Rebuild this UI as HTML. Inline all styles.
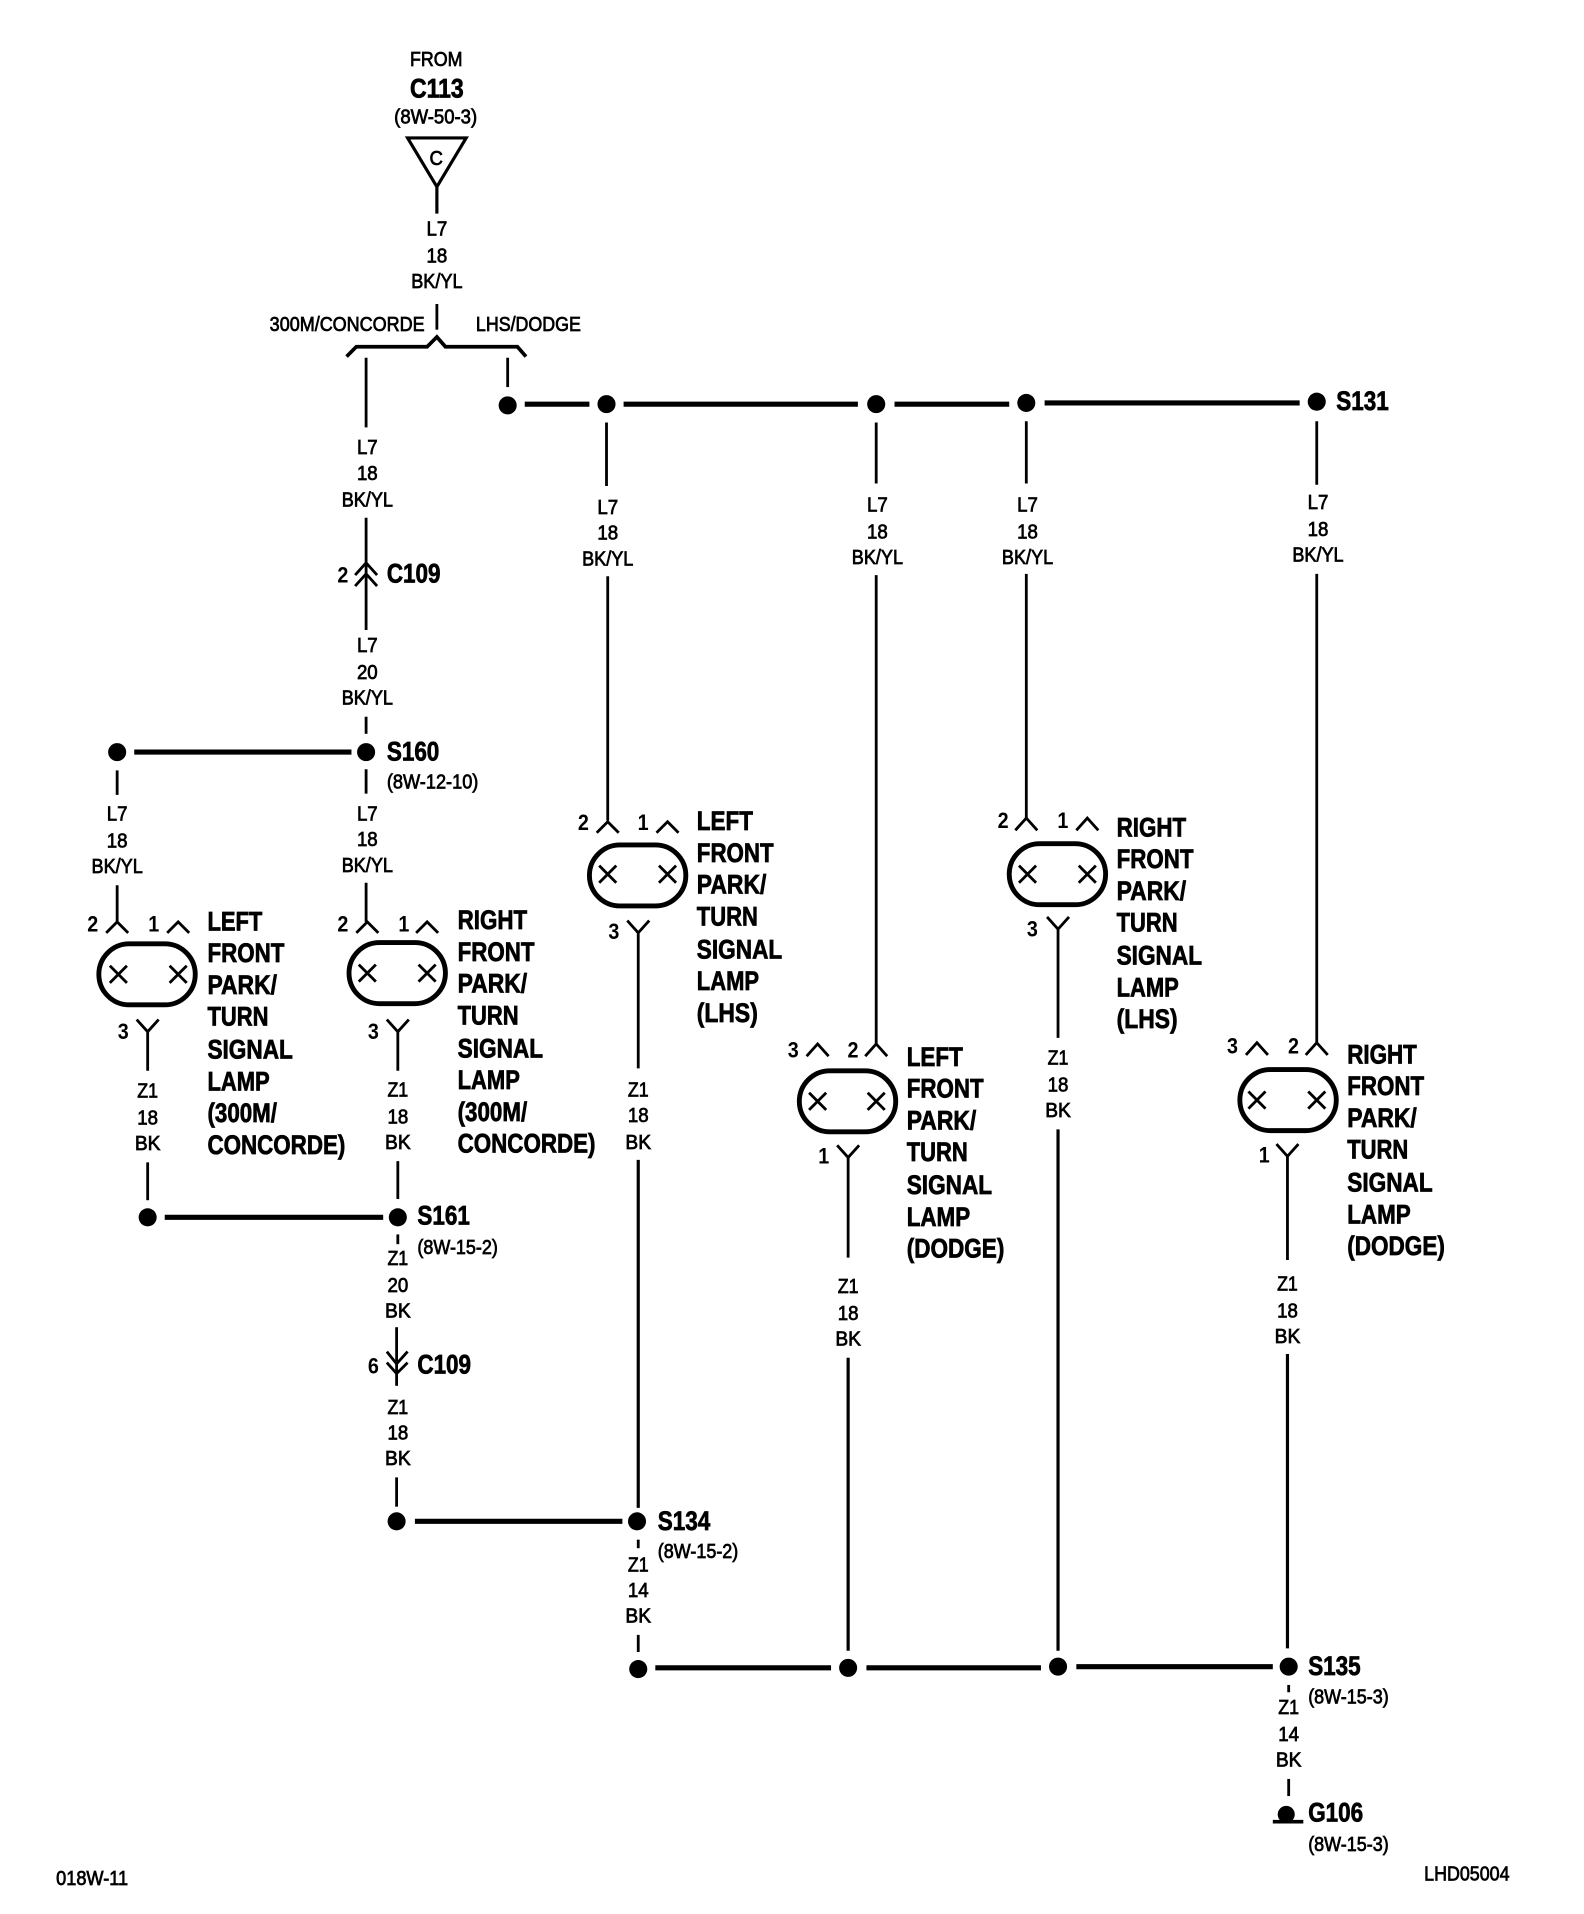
<!DOCTYPE html>
<html><head><meta charset="utf-8"><title>Wiring diagram</title>
<style>
html,body{margin:0;padding:0;background:#fff;width:1584px;height:1914px;overflow:hidden}
svg{display:block}
text{font-family:"Liberation Sans",Arial,sans-serif;fill:#000}
.w{font-size:16.5px;text-anchor:middle;stroke:#000;stroke-width:.6}
.b{font-size:22px;font-weight:bold;stroke:#000;stroke-width:.6}
.r{font-size:16.5px;stroke:#000;stroke-width:.6}
.p{font-size:18.5px;font-weight:bold;text-anchor:middle}
.t{stroke:#000;stroke-width:2.3;fill:none}
.h{stroke:#000;stroke-width:4.2;fill:none}
.c{stroke:#000;stroke-width:2.3;fill:none}
.l{stroke:#000;stroke-width:4;fill:#fff}
</style></head><body>
<svg xmlns="http://www.w3.org/2000/svg" width="1584" height="1914" viewBox="0 0 1298 1567.6" preserveAspectRatio="none">
<rect width="1298" height="1569" fill="#fff"/>

<!-- top -->
<text class="r" x="336" y="54" textLength="43" lengthAdjust="spacingAndGlyphs">FROM</text>
<text class="b" x="336" y="80" textLength="44" lengthAdjust="spacingAndGlyphs">C113</text>
<text class="r" x="323" y="101" textLength="68" lengthAdjust="spacingAndGlyphs">(8W-50-3)</text>
<path class="c" d="M334 113H382L358 153Z M358 153V175" style="stroke-width:2.6"/>
<text class="r" x="352" y="135" textLength="11" lengthAdjust="spacingAndGlyphs">C</text>
<text class="w" x="358" y="193" textLength="17" lengthAdjust="spacingAndGlyphs">L7</text>
<text class="w" x="358" y="215" textLength="17" lengthAdjust="spacingAndGlyphs">18</text>
<text class="w" x="358" y="236" textLength="42" lengthAdjust="spacingAndGlyphs">BK/YL</text>
<path class="t" d="M358 249V270"/>
<text class="r" x="221" y="271" textLength="127" lengthAdjust="spacingAndGlyphs">300M/CONCORDE</text>
<text class="r" x="390" y="271" textLength="86" lengthAdjust="spacingAndGlyphs">LHS/DODGE</text>
<path class="c" d="M284 292L292 284H350L358 276L365 284H424L431 292" style="stroke-width:3"/>

<!-- left branch -->
<path class="t" d="M300 293V350"/>
<text class="w" x="301" y="372" textLength="17" lengthAdjust="spacingAndGlyphs">L7</text>
<text class="w" x="301" y="393" textLength="17" lengthAdjust="spacingAndGlyphs">18</text>
<text class="w" x="301" y="415" textLength="42" lengthAdjust="spacingAndGlyphs">BK/YL</text>
<path class="t" d="M300 424V516"/>
<path class="c" d="M291 471L300 461L309 471M291 480L300 470L309 480"/>
<text class="p" x="281" y="477" textLength="9" lengthAdjust="spacingAndGlyphs">2</text>
<text class="b" x="317" y="477" textLength="44" lengthAdjust="spacingAndGlyphs">C109</text>
<text class="w" x="301" y="534" textLength="17" lengthAdjust="spacingAndGlyphs">L7</text>
<text class="w" x="301" y="556" textLength="17" lengthAdjust="spacingAndGlyphs">20</text>
<text class="w" x="301" y="577" textLength="42" lengthAdjust="spacingAndGlyphs">BK/YL</text>
<path class="t" d="M300 587V601"/>
<circle cx="300" cy="616" r="7.4"/>
<circle cx="96" cy="616" r="7.4"/>
<path class="h" d="M110 616H288"/>
<text class="b" x="317" y="623" textLength="43" lengthAdjust="spacingAndGlyphs">S160</text>
<text class="r" x="317" y="646" textLength="75" lengthAdjust="spacingAndGlyphs">(8W-12-10)</text>
<path class="t" d="M300 630V650M96 631V651M300 723V755M96 725V755"/>
<text class="w" x="96" y="672" textLength="17" lengthAdjust="spacingAndGlyphs">L7</text>
<text class="w" x="96" y="694" textLength="17" lengthAdjust="spacingAndGlyphs">18</text>
<text class="w" x="96" y="715" textLength="42" lengthAdjust="spacingAndGlyphs">BK/YL</text>
<text class="w" x="301" y="672" textLength="17" lengthAdjust="spacingAndGlyphs">L7</text>
<text class="w" x="301" y="693" textLength="17" lengthAdjust="spacingAndGlyphs">18</text>
<text class="w" x="301" y="714" textLength="42" lengthAdjust="spacingAndGlyphs">BK/YL</text>

<!-- lamp 1 -->
<path class="c" d="M87 764L96 755L105 764M137 764L146 755L155 764M112 835L121 845L130 835M121 845V877"/>
<text class="p" x="76" y="763" textLength="9" lengthAdjust="spacingAndGlyphs">2</text>
<text class="p" x="126" y="763" textLength="9" lengthAdjust="spacingAndGlyphs">1</text>
<text class="p" x="101" y="851" textLength="9" lengthAdjust="spacingAndGlyphs">3</text>
<rect class="l" x="81" y="773" width="79" height="50" rx="25"/>
<path class="c" d="M90 791L104 805M104 791L90 805M139 791L153 805M153 791L139 805"/>
<text class="b" x="170" y="762" textLength="45" lengthAdjust="spacingAndGlyphs">LEFT</text>
<text class="b" x="170" y="788" textLength="63" lengthAdjust="spacingAndGlyphs">FRONT</text>
<text class="b" x="170" y="814" textLength="57" lengthAdjust="spacingAndGlyphs">PARK/</text>
<text class="b" x="170" y="840" textLength="50" lengthAdjust="spacingAndGlyphs">TURN</text>
<text class="b" x="170" y="867" textLength="70" lengthAdjust="spacingAndGlyphs">SIGNAL</text>
<text class="b" x="170" y="893" textLength="51" lengthAdjust="spacingAndGlyphs">LAMP</text>
<text class="b" x="170" y="919" textLength="57" lengthAdjust="spacingAndGlyphs">(300M/</text>
<text class="b" x="170" y="945" textLength="113" lengthAdjust="spacingAndGlyphs">CONCORDE)</text>
<text class="w" x="121" y="899" textLength="17" lengthAdjust="spacingAndGlyphs">Z1</text>
<text class="w" x="121" y="921" textLength="17" lengthAdjust="spacingAndGlyphs">18</text>
<text class="w" x="121" y="942" textLength="21" lengthAdjust="spacingAndGlyphs">BK</text>
<path class="t" d="M121 952V983"/>
<circle cx="121" cy="997" r="7.4"/>
<path class="h" d="M135 997H314"/>

<!-- lamp 2 -->
<path class="c" d="M292 764L301 755L310 764M341 764L350 755L359 764M317 835L326 845L335 835M326 845V877"/>
<text class="p" x="281" y="763" textLength="9" lengthAdjust="spacingAndGlyphs">2</text>
<text class="p" x="331" y="763" textLength="9" lengthAdjust="spacingAndGlyphs">1</text>
<text class="p" x="306" y="851" textLength="9" lengthAdjust="spacingAndGlyphs">3</text>
<rect class="l" x="286" y="772" width="79" height="50" rx="25"/>
<path class="c" d="M294 790L308 804M308 790L294 804M343 790L357 804M357 790L343 804"/>
<text class="b" x="375" y="761" textLength="57" lengthAdjust="spacingAndGlyphs">RIGHT</text>
<text class="b" x="375" y="787" textLength="63" lengthAdjust="spacingAndGlyphs">FRONT</text>
<text class="b" x="375" y="813" textLength="57" lengthAdjust="spacingAndGlyphs">PARK/</text>
<text class="b" x="375" y="839" textLength="50" lengthAdjust="spacingAndGlyphs">TURN</text>
<text class="b" x="375" y="866" textLength="70" lengthAdjust="spacingAndGlyphs">SIGNAL</text>
<text class="b" x="375" y="892" textLength="51" lengthAdjust="spacingAndGlyphs">LAMP</text>
<text class="b" x="375" y="918" textLength="57" lengthAdjust="spacingAndGlyphs">(300M/</text>
<text class="b" x="375" y="944" textLength="113" lengthAdjust="spacingAndGlyphs">CONCORDE)</text>
<text class="w" x="326" y="898" textLength="17" lengthAdjust="spacingAndGlyphs">Z1</text>
<text class="w" x="326" y="920" textLength="17" lengthAdjust="spacingAndGlyphs">18</text>
<text class="w" x="326" y="941" textLength="21" lengthAdjust="spacingAndGlyphs">BK</text>
<path class="t" d="M326 951V982"/>
<circle cx="326" cy="997" r="7.4"/>
<text class="b" x="342" y="1003" textLength="43" lengthAdjust="spacingAndGlyphs">S161</text>
<text class="r" x="342" y="1027" textLength="66" lengthAdjust="spacingAndGlyphs">(8W-15-2)</text>
<path class="t" d="M326 1011V1019"/>
<text class="w" x="326" y="1036" textLength="17" lengthAdjust="spacingAndGlyphs">Z1</text>
<text class="w" x="326" y="1058" textLength="17" lengthAdjust="spacingAndGlyphs">20</text>
<text class="w" x="326" y="1079" textLength="21" lengthAdjust="spacingAndGlyphs">BK</text>
<path class="t" d="M325 1087V1135"/>
<path class="c" d="M317 1107L325 1117L334 1107M317 1116L325 1125L334 1116"/>
<text class="p" x="306" y="1125" textLength="9" lengthAdjust="spacingAndGlyphs">6</text>
<text class="b" x="342" y="1125" textLength="44" lengthAdjust="spacingAndGlyphs">C109</text>
<text class="w" x="326" y="1158" textLength="17" lengthAdjust="spacingAndGlyphs">Z1</text>
<text class="w" x="326" y="1179" textLength="17" lengthAdjust="spacingAndGlyphs">18</text>
<text class="w" x="326" y="1200" textLength="21" lengthAdjust="spacingAndGlyphs">BK</text>
<path class="t" d="M325 1210V1234"/>
<circle cx="325" cy="1246" r="7.4"/>
<path class="h" d="M340 1246H510"/>

<!-- top bus -->
<path class="t" d="M416 293V317"/>
<circle cx="416" cy="332" r="7.4"/>
<path class="h" d="M430 331H483M511 331H703M733 331H827M856 330H1065"/>
<circle cx="497" cy="331" r="7.4"/>
<circle cx="718" cy="331" r="7.4"/>
<circle cx="841" cy="330" r="7.4"/>
<circle cx="1079" cy="329" r="7.4"/>
<text class="b" x="1095" y="336" textLength="43" lengthAdjust="spacingAndGlyphs">S131</text>

<!-- LHS left lamp -->
<path class="t" d="M497 346V398M498 472V672"/>
<text class="w" x="498" y="421" textLength="17" lengthAdjust="spacingAndGlyphs">L7</text>
<text class="w" x="498" y="442" textLength="17" lengthAdjust="spacingAndGlyphs">18</text>
<text class="w" x="498" y="463" textLength="42" lengthAdjust="spacingAndGlyphs">BK/YL</text>
<path class="c" d="M489 682L498 673L507 682M538 682L547 673L556 682M514 754L523 764L532 754M523 764V875"/>
<text class="p" x="478" y="680" textLength="9" lengthAdjust="spacingAndGlyphs">2</text>
<text class="p" x="527" y="680" textLength="9" lengthAdjust="spacingAndGlyphs">1</text>
<text class="p" x="503" y="769" textLength="9" lengthAdjust="spacingAndGlyphs">3</text>
<rect class="l" x="483" y="692" width="79" height="50" rx="25"/>
<path class="c" d="M491 709L505 723M505 709L491 723M540 709L554 723M554 709L540 723"/>
<text class="b" x="571" y="680" textLength="46" lengthAdjust="spacingAndGlyphs">LEFT</text>
<text class="b" x="571" y="706" textLength="63" lengthAdjust="spacingAndGlyphs">FRONT</text>
<text class="b" x="571" y="732" textLength="57" lengthAdjust="spacingAndGlyphs">PARK/</text>
<text class="b" x="571" y="758" textLength="50" lengthAdjust="spacingAndGlyphs">TURN</text>
<text class="b" x="571" y="785" textLength="70" lengthAdjust="spacingAndGlyphs">SIGNAL</text>
<text class="b" x="571" y="811" textLength="51" lengthAdjust="spacingAndGlyphs">LAMP</text>
<text class="b" x="571" y="837" textLength="50" lengthAdjust="spacingAndGlyphs">(LHS)</text>
<text class="w" x="523" y="898" textLength="17" lengthAdjust="spacingAndGlyphs">Z1</text>
<text class="w" x="523" y="919" textLength="17" lengthAdjust="spacingAndGlyphs">18</text>
<text class="w" x="523" y="941" textLength="21" lengthAdjust="spacingAndGlyphs">BK</text>
<path class="t" d="M523 950V1235" style="stroke-width:2.6"/>
<circle cx="522" cy="1246" r="7.4"/>
<text class="b" x="539" y="1253" textLength="43" lengthAdjust="spacingAndGlyphs">S134</text>
<text class="r" x="539" y="1276" textLength="66" lengthAdjust="spacingAndGlyphs">(8W-15-2)</text>
<path class="t" d="M523 1261V1268"/>
<text class="w" x="523" y="1287" textLength="17" lengthAdjust="spacingAndGlyphs">Z1</text>
<text class="w" x="523" y="1308" textLength="17" lengthAdjust="spacingAndGlyphs">14</text>
<text class="w" x="523" y="1329" textLength="21" lengthAdjust="spacingAndGlyphs">BK</text>
<path class="t" d="M523 1339V1353"/>

<!-- Dodge left lamp -->
<path class="t" d="M718 346V396M718 471V855"/>
<text class="w" x="719" y="419" textLength="17" lengthAdjust="spacingAndGlyphs">L7</text>
<text class="w" x="719" y="441" textLength="17" lengthAdjust="spacingAndGlyphs">18</text>
<text class="w" x="719" y="462" textLength="42" lengthAdjust="spacingAndGlyphs">BK/YL</text>
<path class="c" d="M709 865L718 855L727 865M661 865L670 855L679 865M686 938L695 948L704 938M695 948V1030"/>
<text class="p" x="699" y="866" textLength="9" lengthAdjust="spacingAndGlyphs">2</text>
<text class="p" x="650" y="866" textLength="9" lengthAdjust="spacingAndGlyphs">3</text>
<text class="p" x="675" y="953" textLength="9" lengthAdjust="spacingAndGlyphs">1</text>
<rect class="l" x="655" y="877" width="79" height="50" rx="25"/>
<path class="c" d="M663 895L677 909M677 895L663 909M711 895L725 909M725 895L711 909"/>
<text class="b" x="743" y="873" textLength="46" lengthAdjust="spacingAndGlyphs">LEFT</text>
<text class="b" x="743" y="899" textLength="63" lengthAdjust="spacingAndGlyphs">FRONT</text>
<text class="b" x="743" y="925" textLength="57" lengthAdjust="spacingAndGlyphs">PARK/</text>
<text class="b" x="743" y="951" textLength="50" lengthAdjust="spacingAndGlyphs">TURN</text>
<text class="b" x="743" y="978" textLength="70" lengthAdjust="spacingAndGlyphs">SIGNAL</text>
<text class="b" x="743" y="1004" textLength="52" lengthAdjust="spacingAndGlyphs">LAMP</text>
<text class="b" x="743" y="1030" textLength="80" lengthAdjust="spacingAndGlyphs">(DODGE)</text>
<text class="w" x="695" y="1059" textLength="17" lengthAdjust="spacingAndGlyphs">Z1</text>
<text class="w" x="695" y="1081" textLength="17" lengthAdjust="spacingAndGlyphs">18</text>
<text class="w" x="695" y="1102" textLength="21" lengthAdjust="spacingAndGlyphs">BK</text>
<path class="t" d="M695 1112V1352" style="stroke-width:2.6"/>

<!-- LHS right lamp -->
<path class="t" d="M841 345V396M841 470V670"/>
<text class="w" x="842" y="419" textLength="17" lengthAdjust="spacingAndGlyphs">L7</text>
<text class="w" x="842" y="441" textLength="17" lengthAdjust="spacingAndGlyphs">18</text>
<text class="w" x="842" y="462" textLength="42" lengthAdjust="spacingAndGlyphs">BK/YL</text>
<path class="c" d="M832 680L841 670L850 680M882 680L891 670L900 680M858 751L867 761L876 751M867 761V850"/>
<text class="p" x="822" y="678" textLength="9" lengthAdjust="spacingAndGlyphs">2</text>
<text class="p" x="871" y="678" textLength="9" lengthAdjust="spacingAndGlyphs">1</text>
<text class="p" x="846" y="767" textLength="9" lengthAdjust="spacingAndGlyphs">3</text>
<rect class="l" x="827" y="691" width="79" height="50" rx="25"/>
<path class="c" d="M835 709L849 723M849 709L835 723M884 709L898 723M898 709L884 723"/>
<text class="b" x="915" y="685" textLength="57" lengthAdjust="spacingAndGlyphs">RIGHT</text>
<text class="b" x="915" y="711" textLength="63" lengthAdjust="spacingAndGlyphs">FRONT</text>
<text class="b" x="915" y="737" textLength="57" lengthAdjust="spacingAndGlyphs">PARK/</text>
<text class="b" x="915" y="763" textLength="50" lengthAdjust="spacingAndGlyphs">TURN</text>
<text class="b" x="915" y="790" textLength="70" lengthAdjust="spacingAndGlyphs">SIGNAL</text>
<text class="b" x="915" y="816" textLength="51" lengthAdjust="spacingAndGlyphs">LAMP</text>
<text class="b" x="915" y="842" textLength="50" lengthAdjust="spacingAndGlyphs">(LHS)</text>
<text class="w" x="867" y="872" textLength="17" lengthAdjust="spacingAndGlyphs">Z1</text>
<text class="w" x="867" y="894" textLength="17" lengthAdjust="spacingAndGlyphs">18</text>
<text class="w" x="867" y="915" textLength="21" lengthAdjust="spacingAndGlyphs">BK</text>
<path class="t" d="M867 925V1352" style="stroke-width:2.6"/>

<!-- Dodge right lamp -->
<path class="t" d="M1079 345V397M1079 470V855"/>
<text class="w" x="1080" y="417" textLength="17" lengthAdjust="spacingAndGlyphs">L7</text>
<text class="w" x="1080" y="439" textLength="17" lengthAdjust="spacingAndGlyphs">18</text>
<text class="w" x="1080" y="460" textLength="42" lengthAdjust="spacingAndGlyphs">BK/YL</text>
<path class="c" d="M1070 864L1079 854L1088 864M1021 864L1030 854L1039 864M1046 937L1055 947L1064 937M1055 947V1032"/>
<text class="p" x="1060" y="863" textLength="9" lengthAdjust="spacingAndGlyphs">2</text>
<text class="p" x="1010" y="863" textLength="9" lengthAdjust="spacingAndGlyphs">3</text>
<text class="p" x="1036" y="952" textLength="9" lengthAdjust="spacingAndGlyphs">1</text>
<rect class="l" x="1016" y="876" width="79" height="50" rx="25"/>
<path class="c" d="M1023 894L1037 908M1037 894L1023 908M1072 894L1086 908M1086 894L1072 908"/>
<text class="b" x="1104" y="871" textLength="57" lengthAdjust="spacingAndGlyphs">RIGHT</text>
<text class="b" x="1104" y="897" textLength="63" lengthAdjust="spacingAndGlyphs">FRONT</text>
<text class="b" x="1104" y="923" textLength="57" lengthAdjust="spacingAndGlyphs">PARK/</text>
<text class="b" x="1104" y="949" textLength="50" lengthAdjust="spacingAndGlyphs">TURN</text>
<text class="b" x="1104" y="976" textLength="70" lengthAdjust="spacingAndGlyphs">SIGNAL</text>
<text class="b" x="1104" y="1002" textLength="52" lengthAdjust="spacingAndGlyphs">LAMP</text>
<text class="b" x="1104" y="1028" textLength="80" lengthAdjust="spacingAndGlyphs">(DODGE)</text>
<text class="w" x="1055" y="1057" textLength="17" lengthAdjust="spacingAndGlyphs">Z1</text>
<text class="w" x="1055" y="1079" textLength="17" lengthAdjust="spacingAndGlyphs">18</text>
<text class="w" x="1055" y="1100" textLength="21" lengthAdjust="spacingAndGlyphs">BK</text>
<path class="t" d="M1055 1109V1350" style="stroke-width:2.6"/>

<!-- bottom bus -->
<circle cx="523" cy="1367" r="7.4"/>
<circle cx="695" cy="1366" r="7.4"/>
<circle cx="867" cy="1365" r="7.4"/>
<circle cx="1056" cy="1365" r="7.4"/>
<path class="h" d="M537 1366H681M710 1366H853M882 1365H1043"/>
<text class="b" x="1072" y="1372" textLength="43" lengthAdjust="spacingAndGlyphs">S135</text>
<text class="r" x="1072" y="1395" textLength="66" lengthAdjust="spacingAndGlyphs">(8W-15-3)</text>
<path class="t" d="M1056 1380V1386"/>
<text class="w" x="1056" y="1404" textLength="17" lengthAdjust="spacingAndGlyphs">Z1</text>
<text class="w" x="1056" y="1426" textLength="17" lengthAdjust="spacingAndGlyphs">14</text>
<text class="w" x="1056" y="1447" textLength="21" lengthAdjust="spacingAndGlyphs">BK</text>
<path class="t" d="M1056 1457V1471"/>
<circle cx="1054" cy="1486" r="7"/>
<path class="h" d="M1043 1492H1068" style="stroke-width:3"/>
<text class="b" x="1072" y="1492" textLength="45" lengthAdjust="spacingAndGlyphs">G106</text>
<text class="r" x="1072" y="1516" textLength="66" lengthAdjust="spacingAndGlyphs">(8W-15-3)</text>
<text class="r" x="46" y="1544" textLength="59" lengthAdjust="spacingAndGlyphs">018W-11</text>
<text class="r" x="1167" y="1540" textLength="70" lengthAdjust="spacingAndGlyphs">LHD05004</text>
</svg>
</body></html>
